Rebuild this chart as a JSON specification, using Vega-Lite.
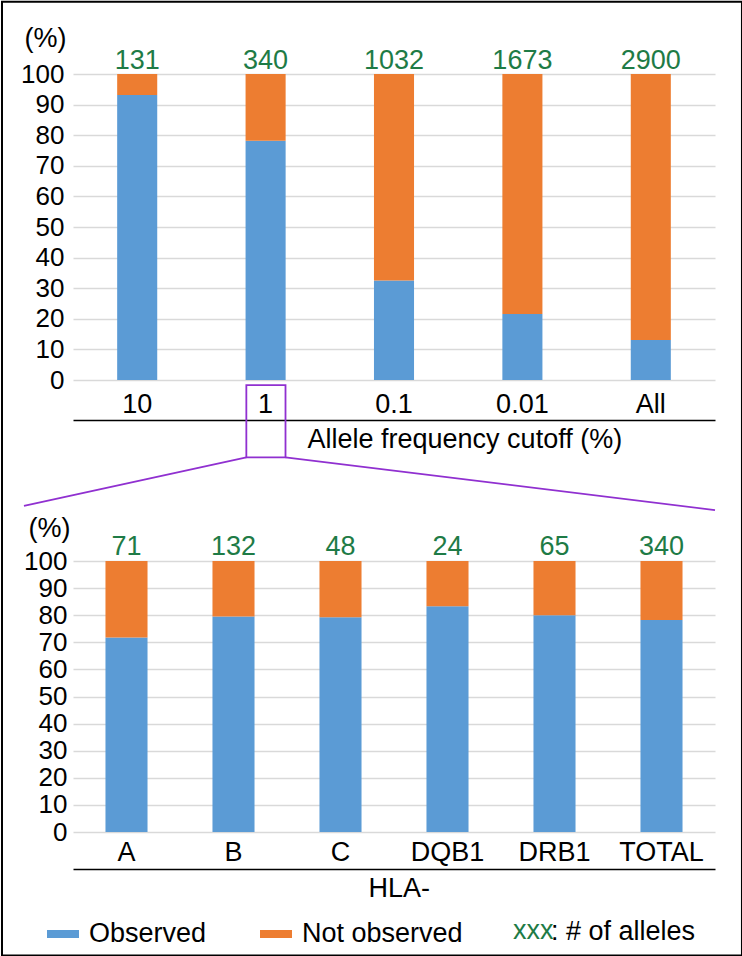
{
  "$schema": "https://vega.github.io/schema/vega-lite/v6.json",
  "padding": 0,
  "autosize": {"type": "pad"},
  "background": "white",
  "bounds": "flush",
  "spacing": 181,
  "config": {
    "font": "Liberation Sans",
    "view": {"stroke": null},
    "axis": {"labelFont": "Liberation Sans", "titleFont": "Liberation Sans", "labelColor": "black", "titleColor": "black", "titleFontWeight": "normal"},
    "legend": {"labelFont": "Liberation Sans", "titleFont": "Liberation Sans"}
  },
  "datasets": {
    "top": [
      {"cutoff": "10", "status": "Observed", "pct": 93.1},
      {"cutoff": "10", "status": "Not observed", "pct": 6.9},
      {"cutoff": "1", "status": "Observed", "pct": 78.2},
      {"cutoff": "1", "status": "Not observed", "pct": 21.8},
      {"cutoff": "0.1", "status": "Observed", "pct": 32.5},
      {"cutoff": "0.1", "status": "Not observed", "pct": 67.5},
      {"cutoff": "0.01", "status": "Observed", "pct": 21.6},
      {"cutoff": "0.01", "status": "Not observed", "pct": 78.4},
      {"cutoff": "All", "status": "Observed", "pct": 13.1},
      {"cutoff": "All", "status": "Not observed", "pct": 86.9}
    ],
    "topN": [
      {"cutoff": "10", "n": 131},
      {"cutoff": "1", "n": 340},
      {"cutoff": "0.1", "n": 1032},
      {"cutoff": "0.01", "n": 1673},
      {"cutoff": "All", "n": 2900}
    ],
    "bottom": [
      {"locus": "A", "status": "Observed", "pct": 71.8},
      {"locus": "A", "status": "Not observed", "pct": 28.2},
      {"locus": "B", "status": "Observed", "pct": 79.5},
      {"locus": "B", "status": "Not observed", "pct": 20.5},
      {"locus": "C", "status": "Observed", "pct": 79.2},
      {"locus": "C", "status": "Not observed", "pct": 20.8},
      {"locus": "DQB1", "status": "Observed", "pct": 83.3},
      {"locus": "DQB1", "status": "Not observed", "pct": 16.7},
      {"locus": "DRB1", "status": "Observed", "pct": 80.0},
      {"locus": "DRB1", "status": "Not observed", "pct": 20.0},
      {"locus": "TOTAL", "status": "Observed", "pct": 78.2},
      {"locus": "TOTAL", "status": "Not observed", "pct": 21.8}
    ],
    "bottomN": [
      {"locus": "A", "n": 71},
      {"locus": "B", "n": 132},
      {"locus": "C", "n": 48},
      {"locus": "DQB1", "n": 24},
      {"locus": "DRB1", "n": 65},
      {"locus": "TOTAL", "n": 340}
    ],
    "one": [{}]
  },
  "resolve": {
    "scale": {"x": "independent", "y": "independent", "color": "independent", "fill": "independent"},
    "legend": {"color": "independent", "fill": "independent"}
  },
  "vconcat": [
    {
      "width": 642,
      "height": 306,
      "resolve": {"scale": {"x": "independent"}},
      "layer": [
        {
          "layer": [
            {
              "data": {"name": "top"},
              "mark": {"type": "bar"},
              "encoding": {
                "x": {
                  "field": "cutoff", "type": "nominal",
                  "sort": ["10", "1", "0.1", "0.01", "All"],
                  "scale": {"paddingInner": 0.688, "paddingOuter": 0.344},
                  "axis": {
                    "title": "Allele frequency cutoff (%)",
                    "labelAngle": 0, "labelFontSize": 27, "labelBaseline": "alphabetic",
                    "labelPadding": -8, "ticks": false, "domain": true,
                    "domainColor": "black", "domainWidth": 1.5, "offset": 40,
                    "titleFontSize": 27, "titleAlign": "left", "titleAnchor": "start",
                    "titleX": 234, "titleY": 27, "titleBaseline": "alphabetic"
                  }
                },
                "y": {
                  "field": "pct", "type": "quantitative", "stack": "zero",
                  "scale": {"domain": [0, 100]},
                  "axis": {
                    "values": [0, 10, 20, 30, 40, 50, 60, 70, 80, 90, 100],
                    "domain": false, "ticks": false, "labelPadding": 9, "labelFontSize": 26,
                    "labelOverlap": false, "grid": true, "gridColor": "#d9d9d9", "gridWidth": 1.5,
                    "title": "(%)", "titleAngle": 0, "titleAlign": "right", "titleBaseline": "alphabetic",
                    "titleX": -7, "titleY": -28, "titleFontSize": 27
                  }
                },
                "color": {
                  "field": "status", "type": "nominal",
                  "scale": {"domain": ["Observed", "Not observed"], "range": ["#5b9bd5", "#ed7d31"]},
                  "legend": null
                },
                "order": {"field": "status", "sort": "descending"}
              }
            },
            {
              "data": {"name": "topN"},
              "mark": {"type": "text", "dy": -5, "baseline": "alphabetic", "fontSize": 27, "color": "#1e7b46"},
              "encoding": {
                "x": {"field": "cutoff", "type": "nominal", "sort": ["10", "1", "0.1", "0.01", "All"]},
                "y": {
                  "datum": 100, "type": "quantitative", "scale": {"domain": [0, 100]},
                  "axis": {
                    "values": [0, 10, 20, 30, 40, 50, 60, 70, 80, 90, 100],
                    "domain": false, "ticks": false, "labelPadding": 9, "labelFontSize": 26,
                    "labelOverlap": false, "grid": true, "gridColor": "#d9d9d9", "gridWidth": 1.5,
                    "title": "(%)", "titleAngle": 0, "titleAlign": "right", "titleBaseline": "alphabetic",
                    "titleX": -7, "titleY": -28, "titleFontSize": 27
                  }
                },
                "text": {"field": "n", "type": "quantitative"}
              }
            }
          ]
        },
        {
          "data": {"name": "one"},
          "layer": [
            {
              "mark": {"type": "rect", "fill": null, "fillOpacity": 0, "stroke": "black", "strokeWidth": 2},
              "encoding": {
                "x": {"datum": -0.553, "type": "quantitative", "scale": {"domain": [0, 5], "nice": false, "zero": false}, "axis": null},
                "x2": {"datum": 5.21},
                "y": {
                  "datum": 123.6, "type": "quantitative", "scale": {"domain": [0, 100]},
                  "axis": {
                    "values": [0, 10, 20, 30, 40, 50, 60, 70, 80, 90, 100],
                    "domain": false, "ticks": false, "labelPadding": 9, "labelFontSize": 26,
                    "labelOverlap": false, "grid": true, "gridColor": "#d9d9d9", "gridWidth": 1.5,
                    "title": "(%)", "titleAngle": 0, "titleAlign": "right", "titleBaseline": "alphabetic",
                    "titleX": -7, "titleY": -28, "titleFontSize": 27
                  }
                },
                "y2": {"datum": -188.1}
              }
            },
            {
              "mark": {"type": "rect", "fill": null, "fillOpacity": 0, "stroke": "#9030d0", "strokeWidth": 1.8},
              "encoding": {
                "x": {"datum": 1.35, "type": "quantitative", "scale": {"domain": [0, 5], "nice": false, "zero": false}, "axis": null},
                "x2": {"datum": 1.655},
                "y": {
                  "datum": -1.7, "type": "quantitative", "scale": {"domain": [0, 100]},
                  "axis": {
                    "values": [0, 10, 20, 30, 40, 50, 60, 70, 80, 90, 100],
                    "domain": false, "ticks": false, "labelPadding": 9, "labelFontSize": 26,
                    "labelOverlap": false, "grid": true, "gridColor": "#d9d9d9", "gridWidth": 1.5,
                    "title": "(%)", "titleAngle": 0, "titleAlign": "right", "titleBaseline": "alphabetic",
                    "titleX": -7, "titleY": -28, "titleFontSize": 27
                  }
                },
                "y2": {"datum": -25.3}
              }
            },
            {
              "mark": {"type": "rule", "stroke": "#9030d0", "strokeWidth": 1.8},
              "encoding": {
                "x": {"datum": 1.35, "type": "quantitative", "scale": {"domain": [0, 5], "nice": false, "zero": false}, "axis": null},
                "x2": {"datum": -0.382},
                "y": {
                  "datum": -25.3, "type": "quantitative", "scale": {"domain": [0, 100]},
                  "axis": {
                    "values": [0, 10, 20, 30, 40, 50, 60, 70, 80, 90, 100],
                    "domain": false, "ticks": false, "labelPadding": 9, "labelFontSize": 26,
                    "labelOverlap": false, "grid": true, "gridColor": "#d9d9d9", "gridWidth": 1.5,
                    "title": "(%)", "titleAngle": 0, "titleAlign": "right", "titleBaseline": "alphabetic",
                    "titleX": -7, "titleY": -28, "titleFontSize": 27
                  }
                },
                "y2": {"datum": -41.1}
              }
            },
            {
              "mark": {"type": "rule", "stroke": "#9030d0", "strokeWidth": 1.8},
              "encoding": {
                "x": {"datum": 1.655, "type": "quantitative", "scale": {"domain": [0, 5], "nice": false, "zero": false}, "axis": null},
                "x2": {"datum": 5.0},
                "y": {
                  "datum": -25.3, "type": "quantitative", "scale": {"domain": [0, 100]},
                  "axis": {
                    "values": [0, 10, 20, 30, 40, 50, 60, 70, 80, 90, 100],
                    "domain": false, "ticks": false, "labelPadding": 9, "labelFontSize": 26,
                    "labelOverlap": false, "grid": true, "gridColor": "#d9d9d9", "gridWidth": 1.5,
                    "title": "(%)", "titleAngle": 0, "titleAlign": "right", "titleBaseline": "alphabetic",
                    "titleX": -7, "titleY": -28, "titleFontSize": 27
                  }
                },
                "y2": {"datum": -42.5}
              }
            }
          ]
        }
      ]
    },
    {
      "width": 642,
      "height": 271,
      "layer": [
        {
          "data": {"name": "bottom"},
          "mark": {"type": "bar"},
          "encoding": {
            "x": {
              "field": "locus", "type": "nominal",
              "sort": ["A", "B", "C", "DQB1", "DRB1", "TOTAL"],
              "scale": {"paddingInner": 0.607, "paddingOuter": 0.3035},
              "axis": {
                "title": "HLA-",
                "labelAngle": 0, "labelFontSize": 27, "labelBaseline": "alphabetic",
                "labelPadding": -9, "ticks": false, "domain": true,
                "domainColor": "black", "domainWidth": 1.5, "offset": 37,
                "titleFontSize": 27, "titleAlign": "left", "titleAnchor": "start",
                "titleX": 295, "titleY": 27, "titleBaseline": "alphabetic"
              }
            },
            "y": {
              "field": "pct", "type": "quantitative", "stack": "zero",
              "scale": {"domain": [0, 100]},
              "axis": {
                "values": [0, 10, 20, 30, 40, 50, 60, 70, 80, 90, 100],
                "domain": false, "ticks": false, "labelPadding": 6, "labelFontSize": 26,
                "labelOverlap": false, "grid": true, "gridColor": "#d9d9d9", "gridWidth": 1.5,
                "title": "(%)", "titleAngle": 0, "titleAlign": "right", "titleBaseline": "alphabetic",
                "titleX": -3, "titleY": -25, "titleFontSize": 27
              }
            },
            "color": {
              "field": "status", "type": "nominal",
              "scale": {"domain": ["Observed", "Not observed"], "range": ["#5b9bd5", "#ed7d31"]},
              "legend": {
                "title": null, "orient": "none", "direction": "horizontal",
                "legendX": -26, "legendY": 357, "padding": 0,
                "symbolType": "M-1,-0.25H1V0.25H-1Z", "symbolSize": 1024, "symbolStrokeWidth": 0,
                "labelFontSize": 27, "labelColor": "black", "labelOffset": 10, "columnPadding": 53,
                "labelLimit": 400
              }
            },
            "order": {"field": "status", "sort": "descending"}
          }
        },
        {
          "data": {"name": "bottomN"},
          "mark": {"type": "text", "dy": -6.5, "baseline": "alphabetic", "fontSize": 27},
          "encoding": {
            "x": {"field": "locus", "type": "nominal", "sort": ["A", "B", "C", "DQB1", "DRB1", "TOTAL"]},
            "y": {
              "datum": 100, "type": "quantitative", "scale": {"domain": [0, 100]},
              "axis": {
                "values": [0, 10, 20, 30, 40, 50, 60, 70, 80, 90, 100],
                "domain": false, "ticks": false, "labelPadding": 6, "labelFontSize": 26,
                "labelOverlap": false, "grid": true, "gridColor": "#d9d9d9", "gridWidth": 1.5,
                "title": "(%)", "titleAngle": 0, "titleAlign": "right", "titleBaseline": "alphabetic",
                "titleX": -3, "titleY": -25, "titleFontSize": 27
              }
            },
            "text": {"field": "n", "type": "quantitative"},
            "fill": {
              "datum": ": # of alleles", "type": "nominal",
              "scale": {"range": ["#1e7b46"]},
              "legend": {
                "title": "xxx", "titleColor": "#1e7b46", "titleFontSize": 27, "titleFontWeight": "normal",
                "titleOrient": "left", "titlePadding": -30, "titleBaseline": "middle",
                "orient": "none", "legendX": 440, "legendY": 357, "padding": 0,
                "symbolSize": 0, "symbolOpacity": 0, "symbolStrokeWidth": 0, "labelOffset": 0,
                "labelFontSize": 27, "labelColor": "black", "labelLimit": 400
              }
            }
          }
        }
      ]
    }
  ]
}
